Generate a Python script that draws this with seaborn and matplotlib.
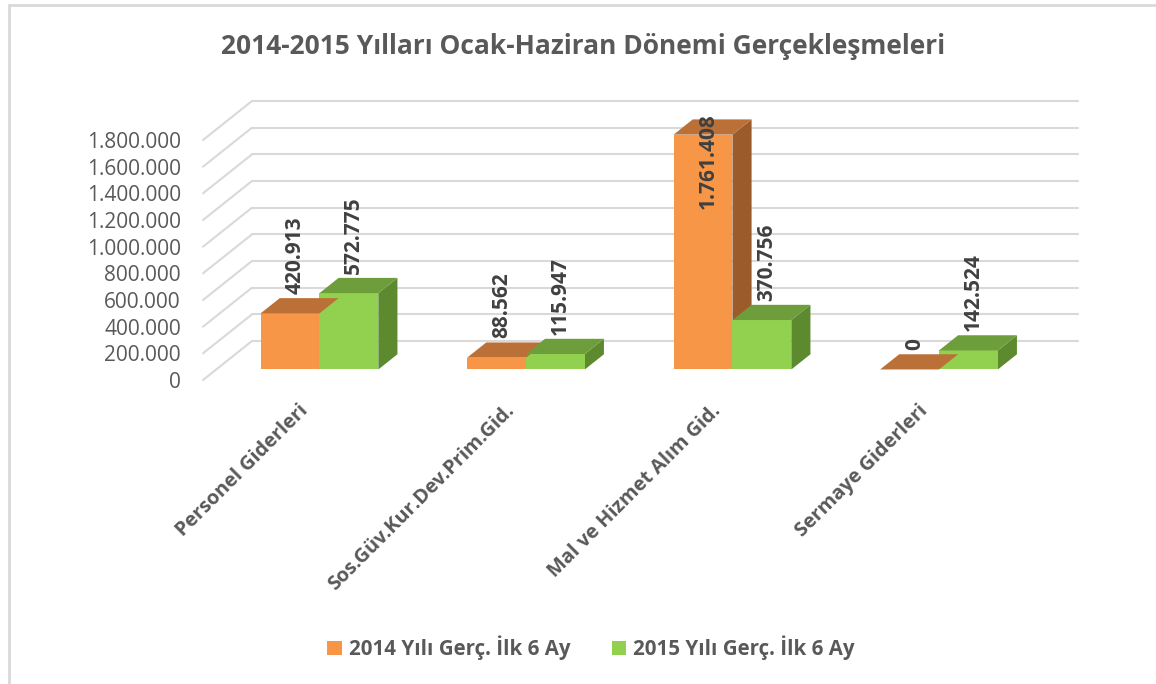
import matplotlib
matplotlib.use("Agg")
import matplotlib.pyplot as plt
import matplotlib.transforms as mtransforms
from matplotlib.patches import Polygon, Rectangle
import numpy as np
import pandas as pd
import seaborn as sns

categories = ["Personel Giderleri", "Sos.Güv.Kur.Dev.Prim.Gid.",
              "Mal ve Hizmet Alım Gid.", "Sermaye Giderleri"]
series = ["2014 Yılı Gerç. İlk 6 Ay", "2015 Yılı Gerç. İlk 6 Ay"]
values_2014 = [420913, 88562, 1761408, 0]
values_2015 = [572775, 115947, 370756, 142524]
yticks = [0, 200000, 400000, 600000, 800000, 1000000,
          1200000, 1400000, 1600000, 1800000]

df = pd.DataFrame({
    "kategori": categories * 2,
    "seri": [series[0]] * 4 + [series[1]] * 4,
    "deger": values_2014 + values_2015,
})

FRONT = {series[0]: "#F79646", series[1]: "#92D050"}
TOP = {series[0]: "#BA7037", series[1]: "#6E9D3B"}
SIDE = {series[0]: "#9C5B2A", series[1]: "#5D8A2F"}
GRID = "#D9D9D9"
TXT = "#595959"

def fmt(v):
    return f"{int(v):,}".replace(",", ".")

sns.set_theme(style="white")
plt.rcParams["font.family"] = ["Open Sans", "DejaVu Sans"]

W, H = 1156, 684
fig = plt.figure(figsize=(W / 100, H / 100), dpi=100)
# axes = front plane of the floor
ax = fig.add_axes([203 / W, (H - 380) / H, 826 / W, 280 / H])
ax.set_xlim(-0.5, 3.5)
ax.set_ylim(0, 2100000)

# depth offsets (whole floor depth) in data units
DX = 49 / 206.5
DY = 39 * 7500
D0, D1 = 0.27, 0.66

sns.barplot(data=df, x="kategori", y="deger", hue="seri", palette=FRONT,
            width=0.57, gap=0, dodge=True, ax=ax, legend=False,
            saturation=1, linewidth=0, zorder=3)

# back wall and side gridlines
for t in yticks:
    ax.plot([-0.5 + DX, 3.5 + DX], [t + DY, t + DY], color=GRID, lw=1.5,
            clip_on=False, zorder=0)
    ax.plot([-0.5, -0.5 + DX], [t, t + DY], color=GRID, lw=1.5,
            clip_on=False, zorder=0)

ox, oy = D0 * DX, D0 * DY
bx, by = (D1 - D0) * DX, (D1 - D0) * DY
bars = [p for p in ax.patches if isinstance(p, Rectangle) and p.get_width() > 0]
for i, p in enumerate(bars):
    s = series[0] if i < 4 else series[1]
    val = (values_2014 + values_2015)[i]
    x0 = p.get_x() + ox
    w = p.get_width()
    p.set_x(x0)
    p.set_y(oy)
    p.set_clip_on(False)
    top = oy + val
    ax.add_patch(Polygon([(x0, top), (x0 + w, top), (x0 + w + bx, top + by),
                          (x0 + bx, top + by)], closed=True, fc=TOP[s],
                         ec="none", zorder=3, clip_on=False))
    ax.add_patch(Polygon([(x0 + w, oy), (x0 + w + bx, oy + by),
                          (x0 + w + bx, top + by), (x0 + w, top)], closed=True,
                         fc=SIDE[s], ec="none", zorder=2.9, clip_on=False))
    lx = x0 + w / 2 + bx * 0.25
    ly = top + by + 30000
    if ly + 800000 > 2150000:
        ax.text(lx, 2000000, fmt(val), rotation=90, ha="center", va="top",
                fontsize=15, fontweight="bold", color="#404040", zorder=5)
    else:
        ax.text(lx, ly, fmt(val), rotation=90, ha="center", va="bottom",
                fontsize=15, fontweight="bold", color="#404040", zorder=5)

ax.set_yticks(yticks)
ax.set_yticklabels([fmt(t) for t in yticks], fontsize=15, color=TXT)
ax.tick_params(axis="y", length=0, pad=16)
ax.set_xticks(range(4))
ax.set_xticklabels(categories, rotation=45, ha="right", rotation_mode="anchor",
                   fontsize=14.3, fontweight="bold", color=TXT)
ax.tick_params(axis="x", length=0, pad=15)
off = mtransforms.ScaledTranslation(-8 / 100, 0, fig.dpi_scale_trans)
for lab in ax.get_xticklabels():
    lab.set_transform(lab.get_transform() + off)
ax.set_xlabel("")
ax.set_ylabel("")
for sp in ax.spines.values():
    sp.set_visible(False)
ax.patch.set_alpha(0)

fig.text(583 / W, 1 - 47 / H, "2014-2015 Yılları Ocak-Haziran Dönemi Gerçekleşmeleri",
         ha="center", va="center", fontsize=19, fontweight="bold", color=TXT)

# legend
handles = [Rectangle((0, 0), 1, 1, fc=FRONT[s], ec="none") for s in series]
fig.legend(handles, series, loc="center", bbox_to_anchor=(591 / W, 1 - 648 / H),
           ncol=2, frameon=False, handlelength=0.7, handleheight=0.7,
           handletextpad=0.35, columnspacing=2.0,
           prop={"weight": "bold", "size": 14.8}, labelcolor=TXT)

# outer frame (top and left visible)
fig.add_artist(plt.Line2D([9 / W, 1], [1 - 5 / H, 1 - 5 / H], color=GRID, lw=2))
fig.add_artist(plt.Line2D([9 / W, 9 / W], [0, 1 - 5 / H], color=GRID, lw=2))

fig.savefig("out.png", dpi=100)
